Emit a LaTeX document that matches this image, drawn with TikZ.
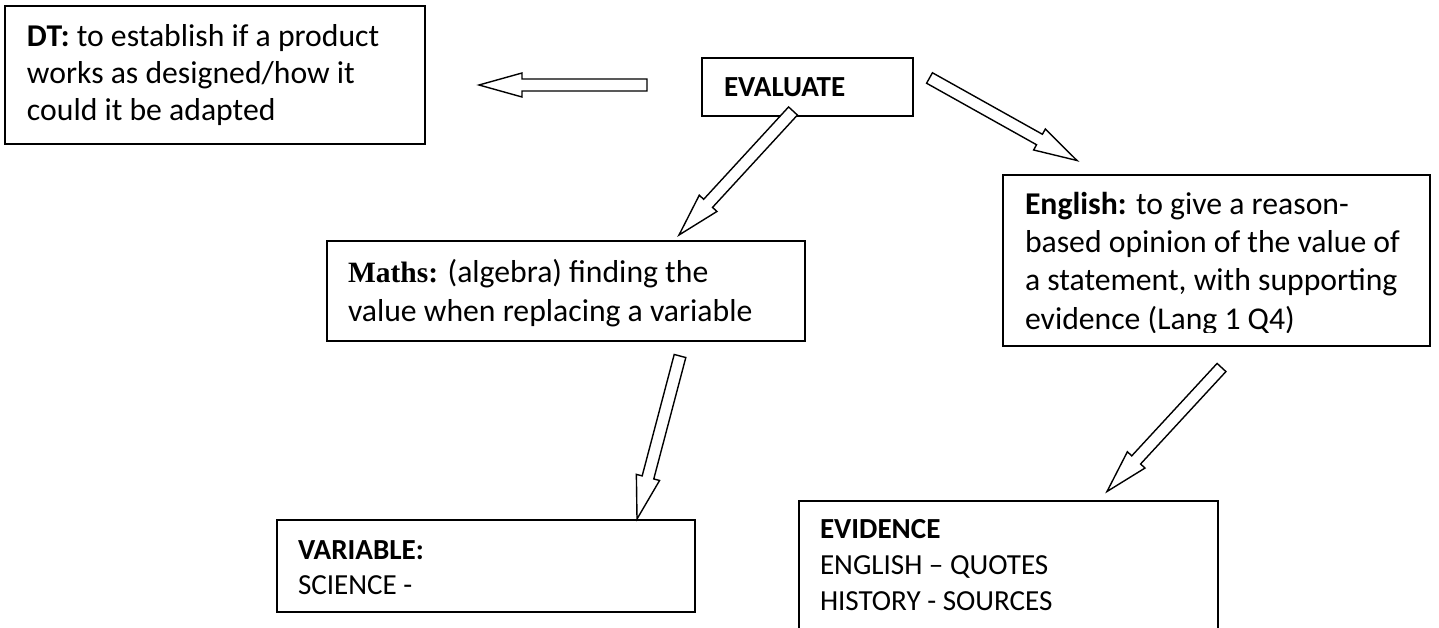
\documentclass[tikz,border=0pt]{standalone}
\usepackage{fontspec}
\setmainfont{Carlito}
\newfontfamily\timesfont{Liberation Serif}
\usetikzlibrary{calc}
\newcommand\bigtext{\fontsize{31.7}{38}\selectfont}
\newcommand\smalltext{\fontsize{29.1}{35.5}\selectfont}
\newcommand\blockarrow[3]{%
  \coordinate (#3h) at ($(#2)!43pt!(#1)$);
  \draw[blockarr] ($(#1)!6pt!90:(#2)$) -- ($(#3h)!6pt!90:(#2)$) -- ($(#3h)!12pt!90:(#2)$) -- (#2)
     -- ($(#3h)!12pt!-90:(#2)$) -- ($(#3h)!6pt!-90:(#2)$) -- ($(#1)!6pt!-90:(#2)$) -- cycle;}
\begin{document}
\begin{tikzpicture}[x=1pt,y=-1pt,
  box/.style={draw, line width=2pt, inner sep=0pt, outer sep=0pt, rectangle},
  txt/.style={anchor=base west, inner sep=0pt, outer sep=0pt},
  blockarr/.style={draw, fill=white, line width=1.4pt, line join=miter}]
\clip (0,0) rectangle (1439,628);
\fill[white] (0,0) rectangle (1439,628);

% boxes
\node[box, minimum width=420pt, minimum height=138pt] (dt) at (215,75) {};
\node[box, minimum width=211pt, minimum height=58pt] (ev) at (807.5,87) {};
\node[box, minimum width=427pt, minimum height=171pt] (en) at (1216.5,260.5) {};
\node[box, minimum width=478pt, minimum height=100pt] (ma) at (566,291) {};
\node[box, minimum width=418pt, minimum height=92pt] (va) at (486,566) {};
\node[box, minimum width=419pt, minimum height=159pt] (ed) at (1008.5,580.5) {};

% texts
\node[txt] (dtt) at (27,47) {\bigtext\vtop{\baselineskip=37pt
  \hbox{\textbf{DT:} to establish if a product}\hbox{works as designed/how it}\hbox{could it be adapted}}};
\node[txt] (evt) at (724,97) {\smalltext\textbf{EVALUATE}};
\begin{scope}
\clip (1003,175) rectangle (1430,332);
\node[txt] (ent) at (1025,215) {\bigtext\vtop{\baselineskip=38pt
  \hbox{\textbf{English:} to give a reason-}\hbox{based opinion of the value of}\hbox{a statement, with supporting}\hbox{evidence (Lang 1 Q4)}}};
\end{scope}
\node[txt] (mat) at (348,282) {\bigtext\vtop{\baselineskip=39pt
  \hbox{{\timesfont\bfseries\fontsize{29.5}{38}\selectfont Maths:} (algebra) finding the}\hbox{value when replacing a variable}}};
\node[txt] (vat) at (298,559) {\smalltext\vtop{\baselineskip=35pt
  \hbox{\textbf{VARIABLE:}}\hbox{SCIENCE -}}};
\node[txt] (edt) at (820,538) {\smalltext\vtop{\baselineskip=36pt
  \hbox{\textbf{EVIDENCE}}\hbox{ENGLISH – QUOTES}\hbox{HISTORY - SOURCES}}};

% block arrows
\coordinate (a1s) at (647,85);      \coordinate (a1e) at (479,85);
\coordinate (a2s) at (929.5,78);    \coordinate (a2e) at (1077,160.5);
\coordinate (a3s) at (793,111);     \coordinate (a3e) at (679,235);
\coordinate (a4s) at (680,356);     \coordinate (a4e) at (637,519);
\coordinate (a5s) at (1221.5,367.5);\coordinate (a5e) at (1107,491.5);
\blockarrow{a1s}{a1e}{a1}
\blockarrow{a2s}{a2e}{a2}
\blockarrow{a3s}{a3e}{a3}
\blockarrow{a4s}{a4e}{a4}
\blockarrow{a5s}{a5e}{a5}
\end{tikzpicture}
\end{document}
